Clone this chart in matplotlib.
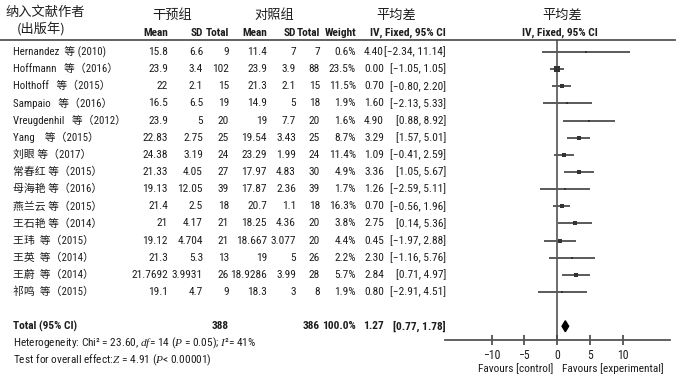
import matplotlib
matplotlib.use("Agg")
import numpy as np
import matplotlib.pyplot as plt
from matplotlib import font_manager

# look for a narrow sans for the latin text, else fall back to a smaller Liberation Sans
latin, stretch, fs = "Liberation Sans", "normal", 7
for f in font_manager.fontManager.ttflist:
    if f.name in ("Liberation Sans Narrow", "Roboto Condensed", "Open Sans Condensed"):
        latin, stretch, fs = f.name, "normal", 8.2
        break
    if f.name == "DejaVu Sans" and f.stretch == "condensed":
        latin, stretch, fs = "DejaVu Sans", "condensed", 7.5

FAM = [latin, "Noto Sans CJK SC", "DejaVu Sans"]
CJK = ["Noto Sans CJK SC", "DejaVu Sans"]
plt.rcParams["font.family"] = FAM
plt.rcParams["font.stretch"] = stretch
plt.rcParams["mathtext.fontset"] = "custom"
plt.rcParams["mathtext.it"] = "Liberation Serif:italic"
plt.rcParams["mathtext.rm"] = "Liberation Sans"

# ---- data ----
studies = ["Hernandez  等 (2010)", "Hoffmann   等（2016）", "Holthoff   等（2015）",
           "Sampaio   等（2016）", "Vreugdenhil   等（2012）", "Yang    等（2015）",
           "刘眼 等（2017）", "常春红 等（2015）", "母海艳 等（2016）", "燕兰云 等（2015）",
           "王石艳 等（2014）", "王玮  等（2015）", "王英  等（2014）", "王蔚  等（2014）",
           "祁鸣  等（2015）"]
exp_mean = ["15.8", "23.9", "22", "16.5", "23.9", "22.83", "24.38", "21.33", "19.13",
            "21.4", "21", "19.12", "21.3", "21.7692", "19.1"]
exp_sd = ["6.6", "3.4", "2.1", "6.5", "5", "2.75", "3.19", "4.05", "12.05", "2.5",
          "4.17", "4.704", "5.3", "3.9931", "4.7"]
exp_n = [9, 102, 15, 19, 20, 25, 24, 27, 39, 18, 21, 21, 13, 26, 9]
ctl_mean = ["11.4", "23.9", "21.3", "14.9", "19", "19.54", "23.29", "17.97", "17.87",
            "20.7", "18.25", "18.667", "19", "18.9286", "18.3"]
ctl_sd = ["7", "3.9", "2.1", "5", "7.7", "3.43", "1.99", "4.83", "2.36", "1.1",
          "4.36", "3.077", "5", "3.99", "3"]
ctl_n = [7, 88, 15, 18, 20, 25, 24, 30, 39, 18, 20, 20, 26, 28, 8]
weight = [0.6, 23.5, 11.5, 1.9, 1.6, 8.7, 11.4, 4.9, 1.7, 16.3, 3.8, 4.4, 2.2, 5.7, 1.9]
md = [4.40, 0.00, 0.70, 1.60, 4.90, 3.29, 1.09, 3.36, 1.26, 0.70, 2.75, 0.45, 2.30, 2.84, 0.80]
lo = [-2.34, -1.05, -0.80, -2.13, 0.88, 1.57, -0.41, 1.05, -2.59, -0.56, 0.14, -1.97, -1.16, 0.71, -2.91]
hi = [11.14, 1.05, 2.20, 5.33, 8.92, 5.01, 2.59, 5.67, 5.11, 1.96, 5.36, 2.88, 5.76, 4.97, 4.51]
total_n = (388, 386)
total_md, total_lo, total_hi = 1.27, 0.77, 1.78
ticks = [-10, -5, 0, 5, 10]

W, H = 683, 386
fig = plt.figure(figsize=(W / 100, H / 100), dpi=100)
ax = fig.add_axes([0, 0, 1, 1])
ax.set_xlim(0, W)
ax.set_ylim(H, 0)
ax.axis("off")

y0, dy = 52, 17.14
col = "#1e1e1e"
x_w, x_md, x_ci = 356, 384, 446

def fmt(v):
    return f"{v:.2f}".replace("-", "\u2212")

# headers
ax.text(5, 12, "纳入文献作者", family=CJK, fontsize=9.5, va="center", color=col)
ax.text(17, 29, "(出版年)", family=CJK, fontsize=9.5, va="center", color=col)
for xc, s in [(172, "干预组"), (274, "对照组"), (396, "平均差"), (562, "平均差")]:
    ax.text(xc, 15, s, family=CJK, fontsize=9.5, ha="center", va="center", color=col)
for xr, s in [(168, "Mean"), (203, "SD"), (229, "Total"), (267, "Mean"),
              (296, "SD"), (320, "Total"), (x_w, "Weight")]:
    ax.text(xr, 33, s, ha="right", va="center", fontsize=fs, weight="bold", color=col)
ax.text(x_ci, 33, "IV, Fixed, 95% CI", ha="right", va="center", fontsize=fs, weight="bold", color=col)
ax.text(560, 33, "IV, Fixed, 95% CI", ha="center", va="center", fontsize=fs, weight="bold", color=col)
ax.plot([0, 675], [39.5, 39.5], color="#555555", lw=1.3)

# study rows
for i in range(len(studies)):
    y = y0 + i * dy
    ax.text(13, y, studies[i], va="center", fontsize=7.8, color=col)
    cells = [(168, exp_mean[i]), (203, exp_sd[i]), (229, str(exp_n[i])),
             (267, ctl_mean[i]), (296, ctl_sd[i]), (320, str(ctl_n[i])),
             (x_w, f"{weight[i]:.1f}%"), (x_md, fmt(md[i])),
             (x_ci, f"[{fmt(lo[i])}, {fmt(hi[i])}]")]
    for xr, s in cells:
        ax.text(xr, y, s, ha="right", va="center", fontsize=fs, color=col)

# total row
yt = y0 + 16 * dy
ax.text(13, yt, "Total (95% CI)", va="center", fontsize=fs, weight="bold", color=col)
for xr, s in [(229, str(total_n[0])), (320, str(total_n[1])), (x_w, "100.0%"),
              (x_md, fmt(total_md)), (x_ci, f"[{fmt(total_lo)}, {fmt(total_hi)}]")]:
    ax.text(xr, yt, s, ha="right", va="center", fontsize=fs, weight="bold", color=col)

ax.text(13, 343, r"Heterogeneity: Chi² = 23.60, $\mathit{df}$= 14 ($\mathit{P}$ = 0.05); $\mathit{I}$²= 41%",
        va="center", fontsize=fs, color=col)
ax.text(13, 360, r"Test for overall effect:$\mathit{Z}$ = 4.91 ($\mathit{P}$< 0.00001)",
        va="center", fontsize=fs, color=col)

# forest panel
px0, scale = 557, 6.55
left_px, right_px, top_px, bot_px = 445, 670, 39.5, 340
fa = fig.add_axes([left_px / W, 1 - bot_px / H, (right_px - left_px) / W, (bot_px - top_px) / H])
fa.patch.set_alpha(0)
fa.set_xlim((left_px - px0) / scale, (right_px - px0) / scale)
fa.set_ylim((bot_px - y0) / dy, (top_px - y0) / dy)
for s in ["top", "left", "right"]:
    fa.spines[s].set_visible(False)
fa.spines["bottom"].set_color("#555555")
fa.spines["bottom"].set_linewidth(1.3)
fa.set_yticks([])
fa.set_xticks(ticks)
fa.set_xticklabels([str(t).replace("-", "\u2212") for t in ticks])
fa.tick_params(axis="x", direction="inout", length=7, width=1.2, color="#444444",
               labelsize=8.5, labelcolor=col, pad=3)
fa.axvline(0, color="#444444", lw=1.1)
rows = np.arange(len(studies))
for i in rows:
    fa.plot([lo[i], hi[i]], [i, i], color="#5a5a5a", lw=1.4, solid_capstyle="butt")
    fa.plot(md[i], i, marker="s", color="#333333", ms=1.2 + 0.55 * np.sqrt(weight[i]), mew=0)
dh = 0.32
fa.fill([total_lo, total_md, total_hi, total_md], [16, 16 - dh, 16, 16 + dh], color="black")

ax.text(553, 369, "Favours [control]", ha="right", va="center", fontsize=fs, color=col)
ax.text(562, 369, "Favours [experimental]", ha="left", va="center", fontsize=fs, color=col)

fig.savefig("out.png", dpi=100)
